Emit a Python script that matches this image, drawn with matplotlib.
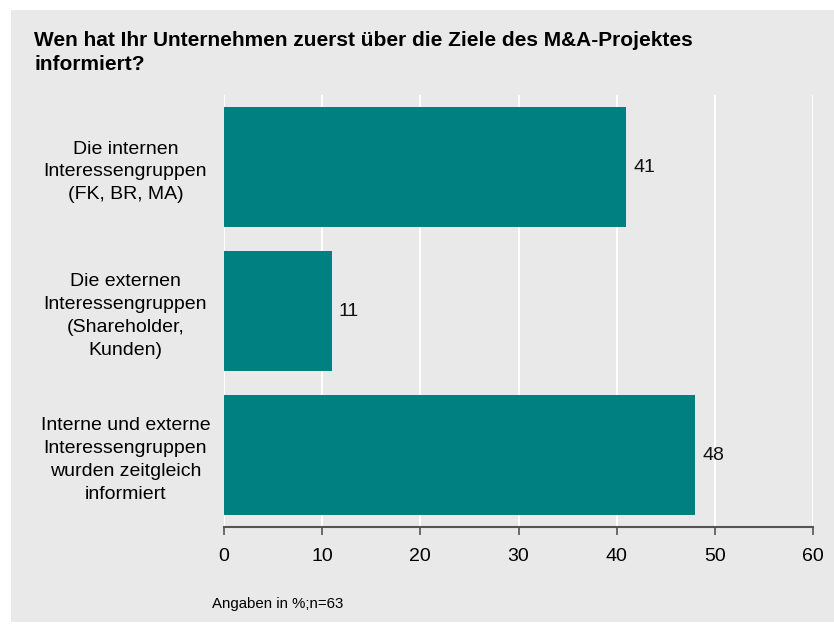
import matplotlib.pyplot as plt
from matplotlib.patches import Rectangle

plt.rcParams['font.family'] = ['Liberation Sans', 'DejaVu Sans']

# data
categories = ["Die internen\nInteressengruppen\n(FK, BR, MA)",
              "Die externen\nInteressengruppen\n(Shareholder,\nKunden)",
              "Interne und externe\nInteressengruppen\nwurden zeitgleich\ninformiert"]
values = [41, 11, 48]
xticks = [0, 10, 20, 30, 40, 50, 60]

title = "Wen hat Ihr Unternehmen zuerst über die Ziele des M&A-Projektes\ninformiert?"
footer = "Angaben in %;n=63"

bg = "#e9e9e9"
teal = "#008080"

fig = plt.figure(figsize=(8.34, 6.25), dpi=100)
fig.patch.set_facecolor("white")
# gray panel behind everything
fig.patches.append(Rectangle((11/834, 3/625), 1 - 11/834, 1 - 13/625,
                             transform=fig.transFigure, facecolor=bg,
                             edgecolor="none", zorder=-5))

ax = fig.add_axes([224/834, 1 - 527/625, (813 - 224)/834, (527 - 95)/625])
ax.set_zorder(2)
ax.set_facecolor(bg)

pos = list(range(len(values)))
bars = ax.barh(pos, values, height=0.835, color=teal, zorder=3)
ax.set_xlim(0, 60)
ax.set_ylim(2.5, -0.5)

# value labels
for p, v in zip(pos, values):
    ax.text(v + 0.7, p, str(v), va="center", ha="left", fontsize=14, color="#111111")

ax.set_xticks(xticks)
ax.set_xticklabels([str(t) for t in xticks], fontsize=14)
ax.xaxis.grid(True, color="white", linewidth=1.5, zorder=0)
ax.set_axisbelow(True)
ax.tick_params(axis="x", length=6, width=1.2, color="#555555", pad=9)

ax.set_yticks(pos)
ax.set_yticklabels(categories, fontsize=14, linespacing=1.45)
ax.tick_params(axis="y", length=0, pad=71)
for lbl in ax.get_yticklabels():
    lbl.set_horizontalalignment("center")

for s in ["top", "right", "left"]:
    ax.spines[s].set_visible(False)
ax.spines["bottom"].set_color("#555555")
ax.spines["bottom"].set_linewidth(1.5)

fig.text(34/834, 1 - 31/625, title, ha="left", va="top", fontsize=15,
         fontweight="bold", linespacing=1.3)
fig.text(212/834, 1 - 604/625, footer, ha="left", va="center", fontsize=10.8)

fig.savefig("out.png", dpi=100, facecolor=fig.get_facecolor())
